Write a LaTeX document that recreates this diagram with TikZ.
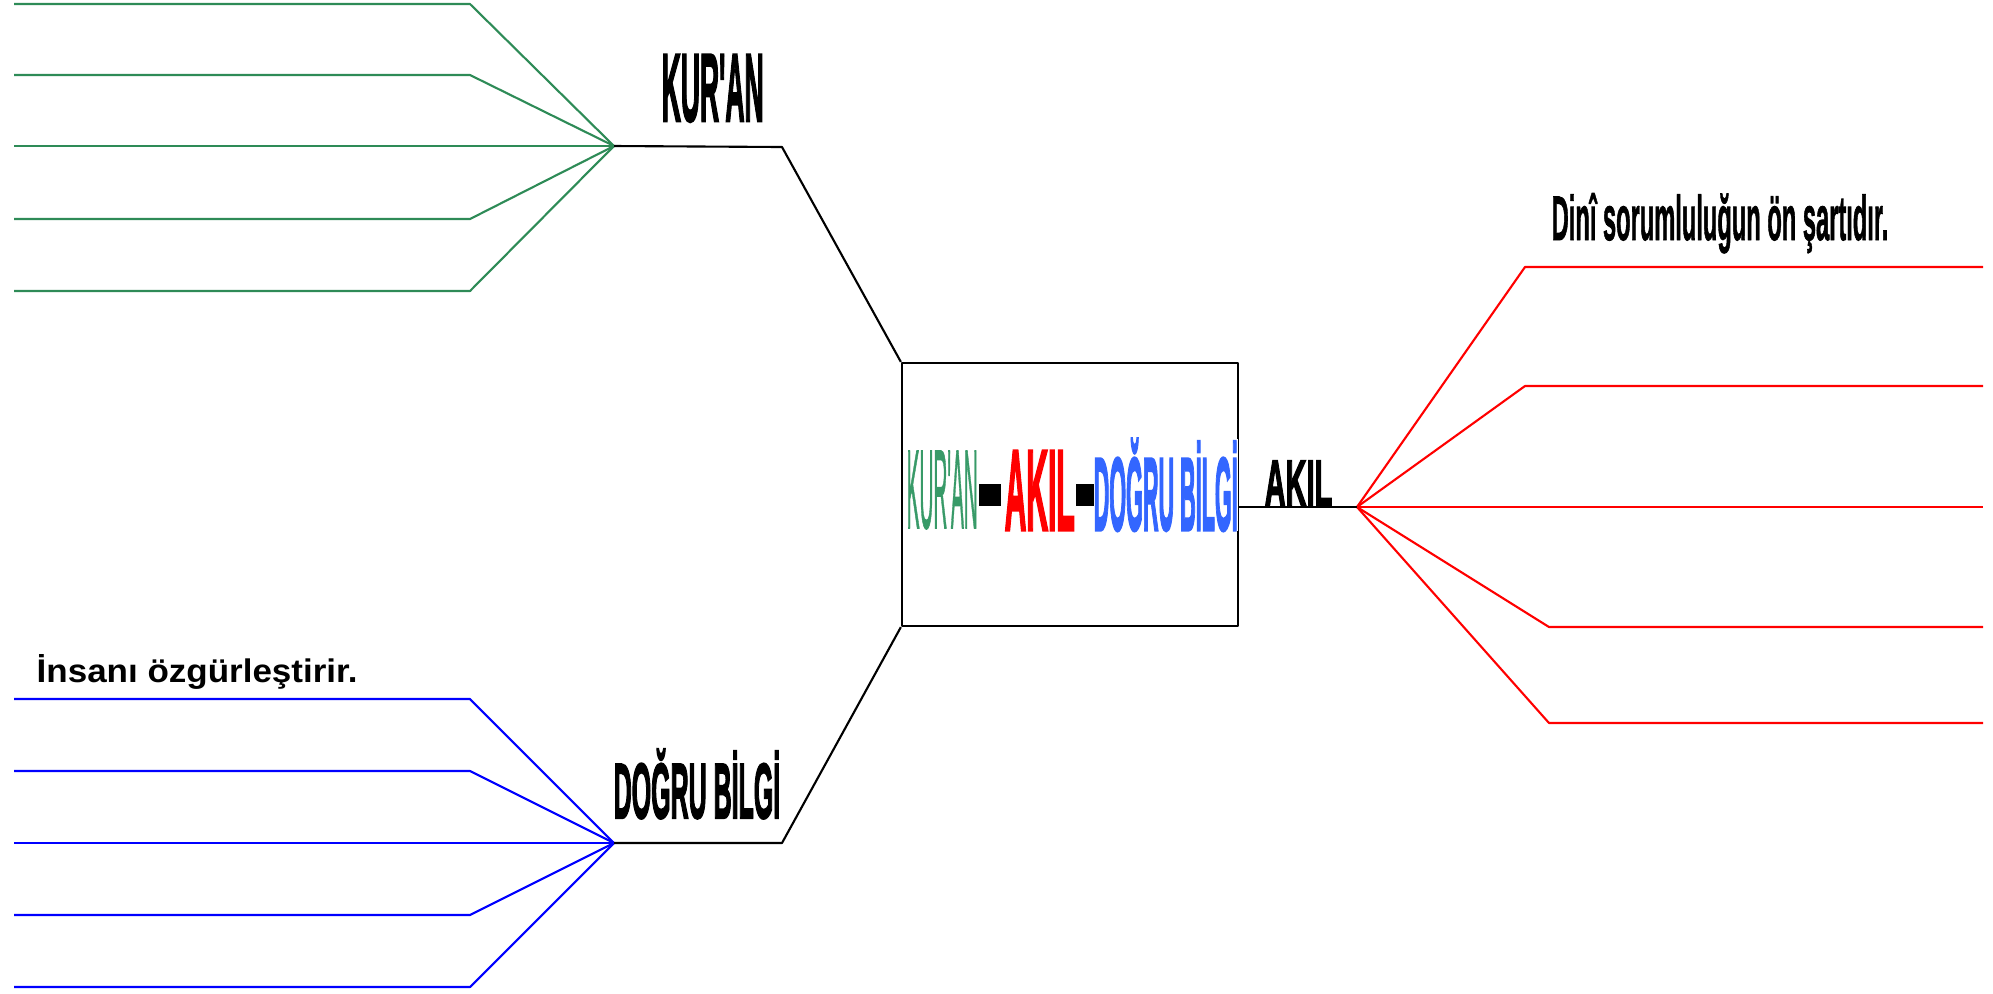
\documentclass[tikz,border=0pt]{standalone}
\usepackage{fontspec}
\setmainfont{Liberation Sans}
\newfontfamily\heavyfont[FakeBold=3]{Liberation Sans}
\newfontfamily\semifont[FakeBold=1.5]{Liberation Sans}
\usepackage{graphicx}
\usepackage{xcolor}
\usetikzlibrary{positioning}

\definecolor{kgreen}{RGB}{46,139,87}
\definecolor{mgreen}{RGB}{56,154,104}
\definecolor{bblue}{RGB}{0,0,255}
\definecolor{mblue}{RGB}{51,102,255}
\definecolor{rred}{RGB}{255,0,0}

\newcommand{\sqz}[2]{\scalebox{#1}[1]{#2}}

\begin{document}
\begin{tikzpicture}[x=0.01cm, y=-0.01cm,
    link/.style={line width=0.6pt, line join=round},
    lbl/.style={inner sep=0pt, anchor=base west}]
	\useasboundingbox (0,0) rectangle (1993,993);

	% center box
	\node[draw, link, minimum width=3.36cm, minimum height=2.63cm, inner sep=0pt] (box) at (1070,494.5) {};

	% hubs of the three fans
	\coordinate (kh) at (614,146);
	\coordinate (bh) at (614,843);
	\coordinate (rh) at (1357,507);

	% KUR'AN fan
	\foreach \y [count=\i] in {4,75,219,291} {
		\coordinate (k\i) at (14,\y);
		\draw[link, kgreen] (kh) -- (470,\y) -- (k\i);
	}
	\coordinate (k0) at (14,146);
	\draw[link, kgreen] (kh) -- (k0);

	% DOGRU BILGI fan
	\foreach \y [count=\i] in {699,771,915,987} {
		\coordinate (b\i) at (14,\y);
		\draw[link, bblue] (bh) -- (470,\y) -- (b\i);
	}
	\coordinate (b0) at (14,843);
	\draw[link, bblue] (bh) -- (b0);

	% AKIL fan
	\foreach \y/\x [count=\i] in {267/1525,386/1525,627/1549,723/1549} {
		\coordinate (r\i) at (1983,\y);
		\draw[link, rred] (rh) -- (\x,\y) -- (r\i);
	}
	\coordinate (r0) at (1983,507);
	\draw[link, rred] (rh) -- (r0);

	% black connectors to the box
	\draw[link] (kh) -- (782,147) -- (box.north west);
	\draw[link] (bh) -- (782,843) -- (box.south west);
	\draw[link] (box.east |- rh) -- (rh);

	% labels
	\node[lbl] (lkuran) at (661,121) {\fontsize{27.4}{30}\heavyfont\bfseries\sqz{0.275}{KUR\textquotesingle AN}};
	\node[lbl] (lbilgi) at (613,818) {\fontsize{22.2}{26}\heavyfont\bfseries\sqz{0.32}{DOĞRU BİLGİ}};
	\node[lbl] (lakil) at (1264,506) {\fontsize{18.7}{22}\heavyfont\bfseries\sqz{0.44}{AKIL}};
	\node[lbl] (ldini) at (1551,240) {\fontsize{17.9}{21}\semifont\bfseries\sqz{0.376}{Dinî sorumluluğun ön şartıdır.}};
	\node[lbl] (linsan) at (36,682) {\fontsize{9.3}{11}\selectfont\bfseries\sqz{1.07}{İnsanı özgürleştirir.}};

	% title inside the box
	\node[lbl, mgreen] (mkuran) at (906,528) {\fontsize{31.8}{34}\semifont\sqz{0.172}{KUR\textquotesingle AN}};
	\fill (979,484) rectangle (1001,506);
	\node[lbl, rred] (makil) at (1004,530) {\fontsize{32.6}{35}\heavyfont\bfseries\sqz{0.262}{AKIL}};
	\fill (1076,484) rectangle (1097,506);
	\node[lbl, mblue, fill=white] (mbilgi) at (1093,530) {\fontsize{29.4}{32}\heavyfont\bfseries\sqz{0.209}{DOĞRU BİLGİ}};
\end{tikzpicture}
\end{document}
